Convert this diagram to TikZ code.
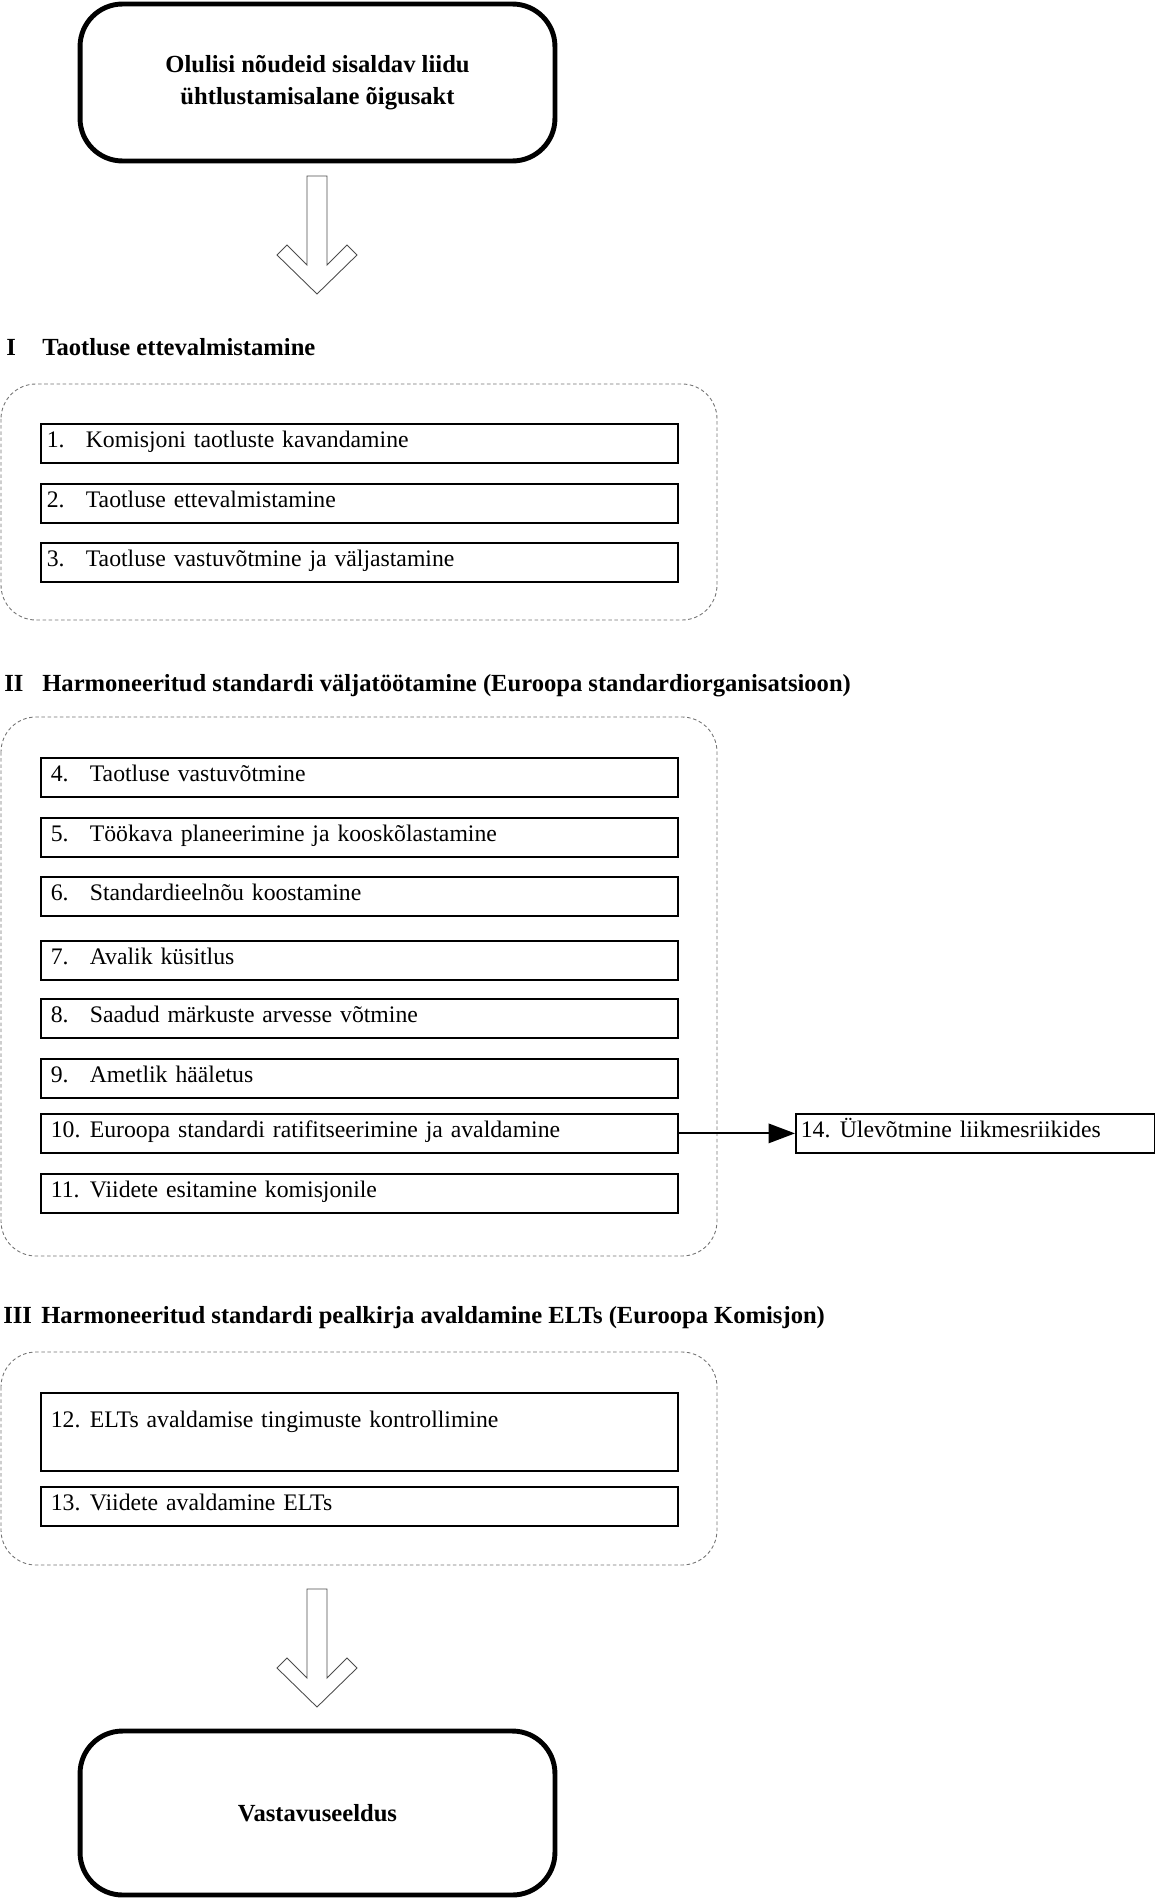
\documentclass[tikz,border=0pt]{standalone}
\usepackage{fontspec}
\setmainfont{Liberation Serif}
\usetikzlibrary{arrows.meta}

\newcommand{\stepitem}[2]{\makebox[0.78cm][l]{#1}#2}

\tikzset{
  bigbox/.style={draw, line width=2.8pt, rounded corners=0.85cm, align=center, minimum width=9.5cm, font=\fontsize{14}{18}\selectfont\bfseries},
  stepbox/.style={draw, line width=1pt, anchor=north west, inner xsep=0.12cm, inner ysep=0pt, text width=12.5cm, text height=0.48cm, text depth=0.3cm, font=\fontsize{13.5}{16}\selectfont},
  stepboxb/.style={stepbox, inner xsep=0.2cm, text width=12.34cm},
  groupframe/.style={draw=black!55, line width=0.5pt, dash pattern=on 2pt off 1.5pt, rounded corners=0.7cm},
  headtext/.style={anchor=base west, inner sep=0pt, font=\fontsize{14}{16}\selectfont\bfseries},
  hollowarrow/.style={draw=black!70, line width=0.5pt, line join=miter},
}

\begin{document}
\begin{tikzpicture}[x=0.02cm, y=-0.02cm]
\useasboundingbox (0,0) rectangle (1155,1899);

% Oigusakt
\node[bigbox, minimum height=3.14cm] (akt) at (317.5,82.5) {Olulisi nõudeid sisaldav liidu\\ühtlustamisalane õigusakt};

% Nooled
\foreach \ay in {176,1589}
  \draw[hollowarrow] (307,\ay) -- ++(20,0) -- ++(0,89) -- ++(20,-20) -- ++(10,10) -- ++(-40,39) -- ++(-40,-39) -- ++(10,-10) -- ++(20,20) -- cycle;

% I
\node[headtext] (h1n) at (6,355) {I};
\node[headtext] (h1) at (42,355) {Taotluse ettevalmistamine};
\draw[groupframe] (1,384) rectangle (717,620);
\node[stepbox] (s1) at (40,423) {\stepitem{1.}{Komisjoni taotluste kavandamine}};
\node[stepbox] (s2) at (40,483) {\stepitem{2.}{Taotluse ettevalmistamine}};
\node[stepbox] (s3) at (40,542) {\stepitem{3.}{Taotluse vastuvõtmine ja väljastamine}};

% II
\node[headtext] (h2n) at (4,691) {II};
\node[headtext] (h2) at (42,691) {Harmoneeritud standardi väljatöötamine (Euroopa standardiorganisatsioon)};
\draw[groupframe] (1,717) rectangle (717,1256);
\node[stepboxb] (s4) at (40,757) {\stepitem{4.}{Taotluse vastuvõtmine}};
\node[stepboxb] (s5) at (40,817) {\stepitem{5.}{Töökava planeerimine ja kooskõlastamine}};
\node[stepboxb] (s6) at (40,876) {\stepitem{6.}{Standardieelnõu koostamine}};
\node[stepboxb] (s7) at (40,940) {\stepitem{7.}{Avalik küsitlus}};
\node[stepboxb] (s8) at (40,998) {\stepitem{8.}{Saadud märkuste arvesse võtmine}};
\node[stepboxb] (s9) at (40,1058) {\stepitem{9.}{Ametlik hääletus}};
\node[stepboxb] (s10) at (40,1113) {\stepitem{10.}{Euroopa standardi ratifitseerimine ja avaldamine}};
\node[stepboxb] (s11) at (40,1173) {\stepitem{11.}{Viidete esitamine komisjonile}};

% Ulevotmine
\node[stepbox, inner xsep=0.1cm, text width=6.98cm] (s14) at (795,1113) {\stepitem{14.}{Ülevõtmine liikmesriikides}};
\draw[line width=1.2pt, -{Triangle[length=15pt, width=11pt]}] (s10.east) -- (s14.west);

% III
\node[headtext] (h3n) at (3,1323) {III};
\node[headtext] (h3) at (41,1323) {Harmoneeritud standardi pealkirja avaldamine ELTs (Euroopa Komisjon)};
\draw[groupframe] (1,1352) rectangle (717,1565);
\node[stepboxb, text height=0.7cm, text depth=0.86cm] (s12) at (40,1392) {\stepitem{12.}{ELTs avaldamise tingimuste kontrollimine}};
\node[stepboxb] (s13) at (40,1486) {\stepitem{13.}{Viidete avaldamine ELTs}};

% Vastavuseeldus
\node[bigbox, minimum height=3.28cm] (eeldus) at (317.5,1813) {Vastavuseeldus};
\end{tikzpicture}
\end{document}
